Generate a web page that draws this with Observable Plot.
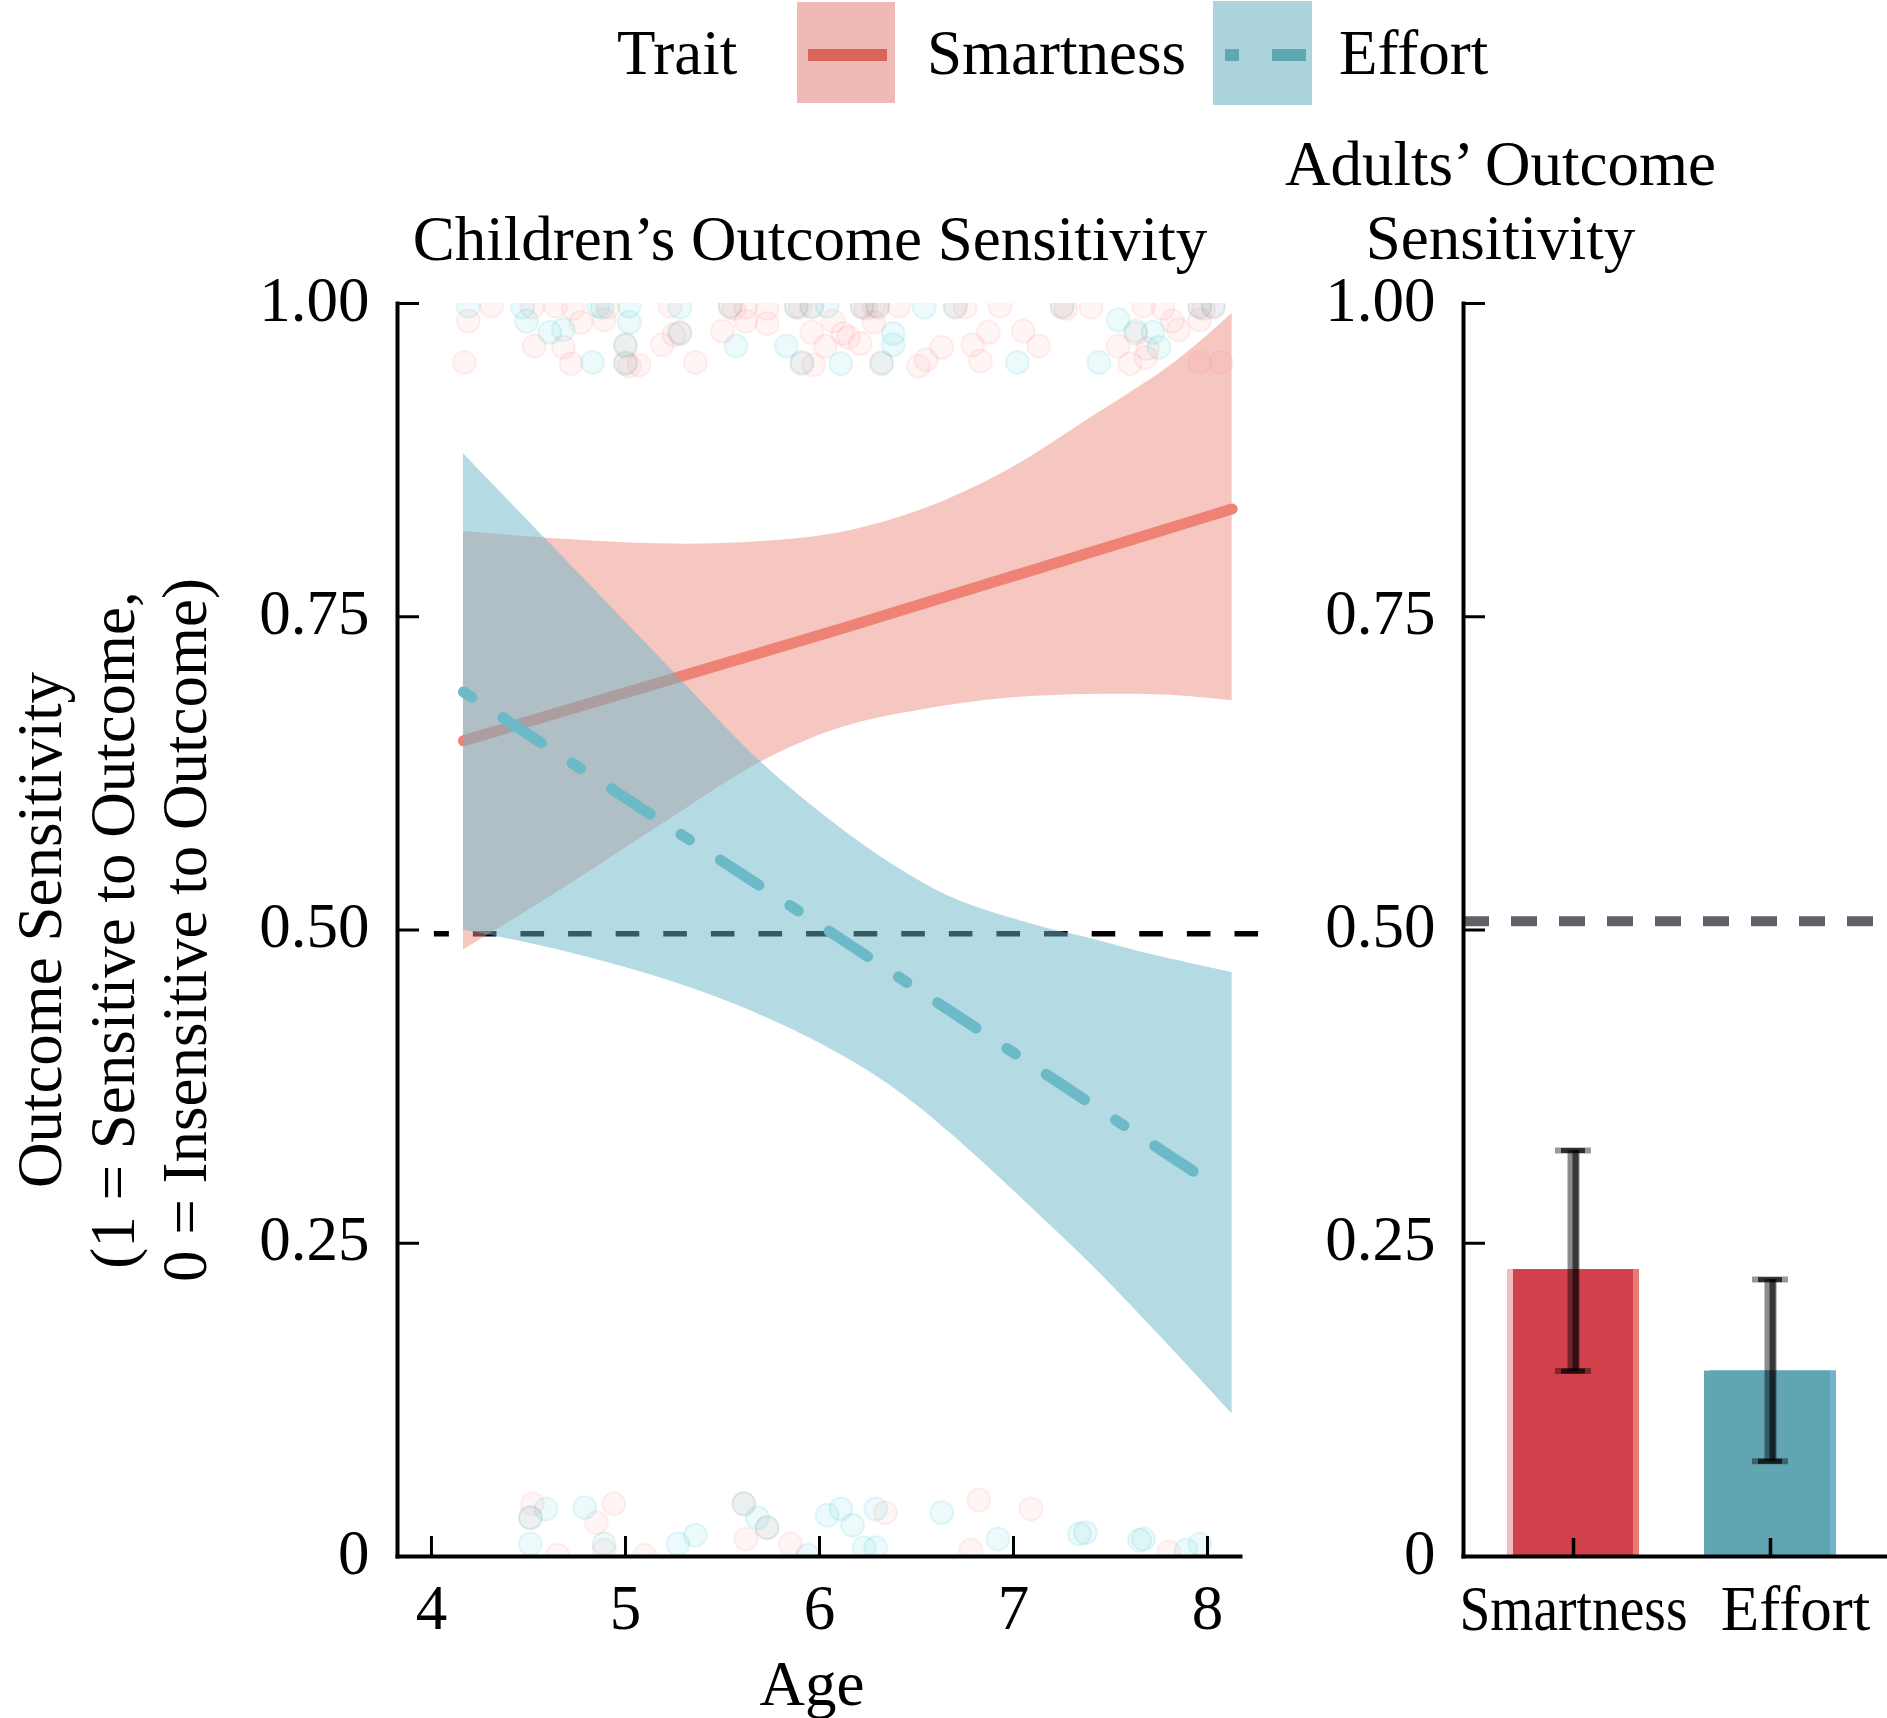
<!DOCTYPE html>
<html><head><meta charset="utf-8">
<script src="https://cdn.jsdelivr.net/npm/d3@7"></script>
<script src="https://cdn.jsdelivr.net/npm/@observablehq/plot@0.6"></script>
<style>
html,body{margin:0;padding:0;background:#fff;}
#root{position:relative;width:1887px;height:1718px;overflow:hidden;background:#fff;}
#root svg{position:absolute;top:0;}
</style></head><body><div id="root"></div>
<script>
// ---------- data ----------
const ageTicks = [4, 5, 6, 7, 8];
const yTicks = [0, 0.25, 0.5, 0.75, 1];
const yTickLabels = ["0", "0.25", "0.50", "0.75", "1.00"];
const traits = ["Smartness", "Effort"];
const legendTitle = "Trait";
const childTitle = "Children\u2019s Outcome Sensitivity";
const adultTitle = ["Adults\u2019 Outcome", "Sensitivity"];
const xLabel = "Age";
const yLabelLines = ["Outcome Sensitivity", "(1 = Sensitive to Outcome,", "0 = Insensitive to Outcome)"];

const childChance = 0.497;
const chanceSpan = [4.015, 8.27];
const adultChance = 0.507;

const smartBandAge = [4.165, 4.657, 5.235, 5.698, 6.103, 6.537, 6.97, 7.40, 7.84, 8.127];
const smartBandLo  = [0.484, 0.531, 0.589, 0.634, 0.661, 0.676, 0.685, 0.688, 0.687, 0.683];
const smartBandHi  = [0.818, 0.812, 0.808, 0.810, 0.817, 0.836, 0.867, 0.909, 0.954, 0.992];

const effortBandAge = [4.165, 4.657, 5.235, 5.698, 6.103, 6.40, 6.681, 7.11, 7.40, 7.694, 8.127];
const effortBandLo  = [0.500, 0.484, 0.459, 0.432, 0.401, 0.372, 0.337, 0.276, 0.233, 0.186, 0.114];
const effortBandHi  = [0.880, 0.801, 0.708, 0.634, 0.582, 0.550, 0.526, 0.504, 0.493, 0.481, 0.466];

const smartLineAge = [4.165, 6.103, 8.127];
const smartLineVal = [0.651, 0.740, 0.836];
const effortLineAge = [4.165, 6.07, 7.97];
const effortLineVal = [0.690, 0.497, 0.303];

const smartPoints = [
  [4.31,.998],[4.52,.997],[4.64,.998],[4.73,.996],[4.91,.997],[5.23,.998],[5.62,.997],[5.73,.996],[6.41,.998],[6.75,.997],[6.93,.998],[7.40,.997],[7.67,.998],[7.77,.996],
  [5.54,.997],[5.88,.998],[5.96,.997],[6.22,.998],[6.30,.997],[6.70,.998],[7.25,.997],[7.96,.998],[8.03,.997],
  [5.56,.996],[5.90,.997],[6.24,.996],[6.28,.998],[7.27,.996],[7.98,.996],
  [4.19,.986],[4.77,.985],[4.89,.987],[5.62,.986],[5.73,.984],[6.07,.986],[6.28,.985],[7.82,.986],[7.96,.987],
  [5.25,.975],[5.50,.978],[5.96,.977],[6.12,.976],[6.15,.973],[6.87,.977],[7.05,.978],[7.85,.979],[5.28,.977],[7.63,.976],
  [4.53,.966],[4.68,.965],[5.19,.967],[6.03,.966],[6.21,.968],[6.63,.965],[6.79,.967],[7.13,.966],[7.54,.966],[7.69,.964],[5.00,.966],
  [4.17,.953],[4.72,.952],[5.07,.951],[5.36,.953],[5.97,.951],[6.51,.950],[6.55,.955],[6.83,.954],[7.60,.952],[7.68,.957],[7.96,.953],[8.07,.953],[5.00,.953],[5.91,.952],[6.32,.953],[5.02,.950],
  [4.52,.042],[4.51,.031],[4.94,.042],[4.85,.027],[4.89,.005],[5.61,.042],[5.62,.014],[5.73,.023],[5.85,.010],[6.34,.035],[6.78,.005],[6.82,.045],[7.09,.038],[7.80,.0035],[4.65,.001],[5.10,.001]
];
const effortPoints = [
  [4.19,.998],[4.47,.997],[4.86,.998],[4.88,.997],[5.02,.998],[5.28,.997],[6.04,.998],[6.54,.997],
  [5.54,.998],[5.88,.997],[5.96,.998],[6.22,.997],[6.30,.998],[6.70,.997],[7.25,.998],[7.96,.997],[8.03,.998],
  [4.49,.986],[5.02,.985],[7.54,.987],
  [4.61,.977],[4.68,.979],[6.38,.976],[7.72,.977],[5.28,.976],[7.63,.978],
  [5.57,.966],[5.83,.966],[6.38,.967],[7.75,.965],[5.00,.967],
  [4.83,.953],[6.11,.952],[7.02,.953],[7.44,.953],[5.00,.952],[5.91,.953],[6.32,.952],
  [4.59,.038],[4.51,.031],[4.51,.010],[4.79,.039],[4.89,.010],[5.27,.010],[5.36,.017],[5.61,.042],[5.68,.031],[5.73,.023],[6.04,.033],[6.11,.038],[6.17,.025],[6.29,.038],[6.23,.007],[6.29,.007],[6.63,.035],[6.92,.014],[7.34,.018],[7.37,.019],[7.65,.013],[7.67,.014],[7.89,.005],[7.96,.010],[5.94,.001]
];

const adultMean = [0.229, 0.148];
const adultLo   = [0.148, 0.076];
const adultHi   = [0.324, 0.221];

// ---------- styles ----------
const FONT = '"Liberation Serif", "Times New Roman", Times, serif';
const FS = 63;
const pointColor = {Smartness: "#F8766D", Effort: "#00BFC4"};
const barMain  = {Smartness: "#d1414c", Effort: "#62a5b2"};
const barEdgeL = {Smartness: "#efbcc2", Effort: "#64a7b4"};
const barEdgeR = {Smartness: "#e67a75", Effort: "#74b4cb"};

// ---------- tables ----------
const smartBand = smartBandAge.map((a, i) => ({age: a, lo: smartBandLo[i], hi: smartBandHi[i]}));
const effortBand = effortBandAge.map((a, i) => ({age: a, lo: effortBandLo[i], hi: effortBandHi[i]}));
const smartLine = smartLineAge.map((a, i) => ({age: a, val: smartLineVal[i]}));
const effortLine = effortLineAge.map((a, i) => ({age: a, val: effortLineVal[i]}));
const jitter = [
  ...smartPoints.map(([age, val]) => ({age, val, trait: "Smartness"})),
  ...effortPoints.map(([age, val]) => ({age, val, trait: "Effort"}))
];
const adults = traits.map((t, i) => ({trait: t, mean: adultMean[i], lo: adultLo[i], hi: adultHi[i]}));
const fmtY = d => yTickLabels[yTicks.indexOf(d)];

// ---------- left panel ----------
const left = Plot.plot({
  width: 1260, height: 1718,
  marginTop: 303, marginBottom: 162, marginLeft: 397, marginRight: 20,
  x: {domain: [3.825, 8.17]},
  y: {domain: [0, 1]},
  color: {type: "identity"},
  style: {fontFamily: FONT, fontSize: FS + "px", background: "transparent", overflow: "visible", color: "#000"},
  marks: [
    Plot.dot(jitter, {x: "age", y: "val", r: 11.5, fill: d => pointColor[d.trait], stroke: d => pointColor[d.trait],
      fillOpacity: 0.07, strokeOpacity: 0.1, strokeWidth: 2, clip: true}),
    Plot.ruleY([childChance], {y: d => d, x1: () => chanceSpan[0], x2: () => chanceSpan[1],
      stroke: "#000", strokeWidth: 5.5, strokeDasharray: "23.6,24", strokeDashoffset: 8.6}),
    Plot.areaY(smartBand, {x: "age", y1: "lo", y2: "hi", fill: "#ee8d83", fillOpacity: 0.5, curve: "catmull-rom"}),
    Plot.line(smartLine, {x: "age", y: "val", stroke: "#ee8275", strokeWidth: 11, curve: "monotone-x"}),
    Plot.areaY(effortBand, {x: "age", y1: "lo", y2: "hi", fill: "#69b7c9", fillOpacity: 0.5, curve: "catmull-rom"}),
    Plot.line(effortLine, {x: "age", y: "val", stroke: "#6cb9c8", strokeWidth: 11, strokeDasharray: "10,37,46,37"}),
    Plot.frame({anchor: "left", stroke: "#000", strokeWidth: 4}),
    Plot.frame({anchor: "bottom", stroke: "#000", strokeWidth: 4}),
    Plot.axisY({ticks: yTicks, tickSize: 22, dx: 22, text: null, label: null, strokeWidth: 3}),
    Plot.axisY({ticks: yTicks, tickSize: 0, tickPadding: 28, tickFormat: fmtY, label: null, fontSize: FS, dy: -3}),
    Plot.axisX({ticks: ageTicks, tickSize: 20, dy: -20, text: null, label: null, strokeWidth: 3}),
    Plot.axisX({ticks: ageTicks, tickSize: 0, tickPadding: 28, tickFormat: d => String(d), label: null, fontSize: FS}),
    Plot.text([xLabel], {frameAnchor: "bottom", lineAnchor: "bottom", dy: 148, dx: -7, fontSize: FS}),
    Plot.text([childTitle], {frameAnchor: "top", lineAnchor: "bottom", dy: -44, dx: -9, fontSize: FS}),
    Plot.text([yLabelLines.join("\n")], {frameAnchor: "left", textAnchor: "middle", rotate: -90, dx: -287,
      lineAnchor: "middle", fontSize: FS, lineHeight: 1.15})
  ]
});

// ---------- right panel ----------
const right = Plot.plot({
  width: 627, height: 1718,
  marginTop: 303, marginBottom: 162, marginLeft: 203, marginRight: 0,
  x: {type: "band", domain: traits, paddingInner: 0.33, paddingOuter: 0.241, align: 0.463},
  y: {domain: [0, 1]},
  color: {type: "identity"},
  style: {fontFamily: FONT, fontSize: FS + "px", background: "transparent", overflow: "visible", color: "#000"},
  marks: [
    Plot.ruleY([adultChance], {y: d => d, stroke: "#606069", strokeWidth: 10, strokeDasharray: "26,22"}),
    Plot.barY(adults, {x: "trait", y: "mean", fill: d => barEdgeL[d.trait]}),
    Plot.barY(adults, {x: "trait", y: "mean", fill: d => barEdgeR[d.trait], insetLeft: 6}),
    Plot.barY(adults, {x: "trait", y: "mean", fill: d => barMain[d.trait], insetLeft: 6, insetRight: 6}),
    Plot.ruleX(adults, {x: "trait", y1: "lo", y2: "hi", stroke: "#000", strokeOpacity: 0.45, strokeWidth: 12}),
    Plot.ruleX(adults, {x: "trait", y1: "lo", y2: "hi", stroke: "#000", strokeOpacity: 0.6, strokeWidth: 6, dx: 2}),
    Plot.tickY(adults, {x: "trait", y: "hi", stroke: "#000", strokeOpacity: 0.4, strokeWidth: 6, insetLeft: 48, insetRight: 48}),
    Plot.tickY(adults, {x: "trait", y: "hi", stroke: "#000", strokeOpacity: 0.7, strokeWidth: 5, insetLeft: 54, insetRight: 54}),
    Plot.tickY(adults, {x: "trait", y: "lo", stroke: "#000", strokeOpacity: 0.4, strokeWidth: 6, insetLeft: 48, insetRight: 48}),
    Plot.tickY(adults, {x: "trait", y: "lo", stroke: "#000", strokeOpacity: 0.7, strokeWidth: 5, insetLeft: 54, insetRight: 54}),
    Plot.frame({anchor: "left", stroke: "#000", strokeWidth: 4}),
    Plot.frame({anchor: "bottom", stroke: "#000", strokeWidth: 4}),
    Plot.axisY({ticks: yTicks, tickSize: 22, dx: 22, text: null, label: null, strokeWidth: 3}),
    Plot.axisY({ticks: yTicks, tickSize: 0, tickPadding: 28, tickFormat: fmtY, label: null, fontSize: FS, dy: -3}),
    Plot.axisX({tickSize: 18, dy: -18, text: null, label: null, strokeWidth: 3.5}),
    Plot.axisX({tickSize: 0, tickPadding: 29, label: null, fontSize: FS}),
    Plot.text([adultTitle.join("\n")], {frameAnchor: "top", lineAnchor: "bottom", dy: -45, dx: -175,
      fontSize: FS, lineHeight: 1.17})
  ]
});
d3.select(right).selectAll('g[aria-label="x-axis tick label"] text').each(function () {
  const t = this.textContent;
  if (t === "Effort") d3.select(this).attr("dx", 25);
  if (t === "Smartness") d3.select(this).attr("textLength", 228).attr("lengthAdjust", "spacingAndGlyphs");
});

const root = document.getElementById("root");
left.style.left = "0px";
right.style.left = "1260px";
root.appendChild(left);
root.appendChild(right);

// ---------- legend (above the panels) ----------
const lg = d3.select(root).append("svg")
  .attr("width", 1887).attr("height", 120)
  .style("left", "0px").style("top", "0px")
  .style("font-family", FONT).style("font-size", FS + "px");
lg.append("text").attr("x", 617).attr("y", 74).text(legendTitle);
lg.append("rect").attr("x", 797).attr("y", 2).attr("width", 98).attr("height", 101).attr("fill", "#efbab5");
lg.append("line").attr("x1", 808).attr("x2", 887).attr("y1", 55).attr("y2", 55)
  .attr("stroke", "#d9645a").attr("stroke-width", 12);
lg.append("text").attr("x", 927).attr("y", 74).text(traits[0]);
lg.append("rect").attr("x", 1213).attr("y", 1).attr("width", 99).attr("height", 104).attr("fill", "#acd4dc");
lg.append("line").attr("x1", 1225).attr("x2", 1306).attr("y1", 55).attr("y2", 55)
  .attr("stroke", "#5fa7b3").attr("stroke-width", 12).attr("stroke-dasharray", "14,33,34");
lg.append("text").attr("x", 1339).attr("y", 74).text(traits[1]);
</script></body></html>
